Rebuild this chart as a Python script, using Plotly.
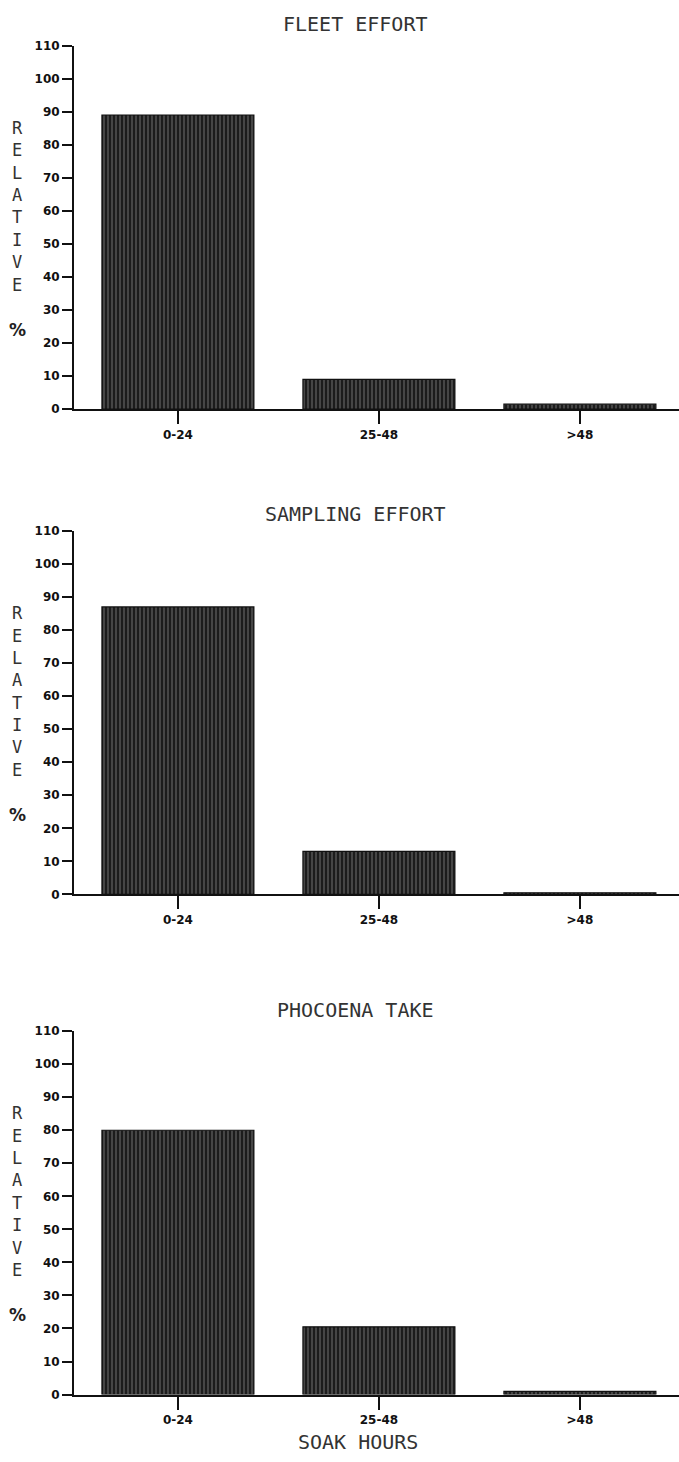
import plotly.graph_objects as go

# ---- data ----
categories = ["0-24", "25-48", ">48"]
fleet_effort = [89, 9, 1.5]
sampling_effort = [87, 13, 0.5]
phocoena_take = [80, 20.5, 1]
panel_titles = ["FLEET EFFORT", "SAMPLING EFFORT", "PHOCOENA TAKE"]
y_ticks = list(range(0, 111, 10))
y_label_letters = ["R", "E", "L", "A", "T", "I", "V", "E"]
x_title = "SOAK HOURS"

W, H = 679, 1462
series = [fleet_effort, sampling_effort, phocoena_take]
# pixel positions of the y=0 and y=110 lines for each panel
zero_px = [406, 896, 1401]
top_px = [39, 529, 1034]
title_px = [17, 512, 1013]

def py(p):
    return 1 - p / H

fig = go.Figure()
axis_font = "DejaVu Sans Mono"
for i, vals in enumerate(series):
    xa = "x" if i == 0 else f"x{i+1}"
    ya = "y" if i == 0 else f"y{i+1}"
    fig.add_trace(go.Bar(
        x=categories, y=vals, xaxis=xa, yaxis=ya, width=0.756,
        marker=dict(
            color="#1c1c1c",
            line=dict(color="#111111", width=1.2),
            pattern=dict(shape="|", fgcolor="#c4c4c4", bgcolor="#1c1c1c",
                         size=4, solidity=0.25, fillmode="overlay"),
        ),
        showlegend=False, hoverinfo="x+y",
    ))
    dom = [py(zero_px[i]), py(top_px[i])]
    xkey = "xaxis" if i == 0 else f"xaxis{i+1}"
    ykey = "yaxis" if i == 0 else f"yaxis{i+1}"
    fig.update_layout(**{
        xkey: dict(
            domain=[74 / W, 1.0], anchor=ya, type="category",
            range=[-0.517, 2.493], showline=True, linecolor="#111",
            linewidth=2, ticks="outside", ticklen=13, tickwidth=1.5,
            tickcolor="#111", showgrid=False, zeroline=False,
            tickfont=dict(family="DejaVu Sans", size=12, color="#111",
                          weight="bold"),
            fixedrange=True,
        ),
        ykey: dict(
            domain=dom, anchor=xa, range=[0, 110], tickvals=y_ticks,
            showline=True, linecolor="#111", linewidth=2,
            ticks="outside", ticklen=10, tickwidth=1.5, tickcolor="#111",
            showgrid=False, zeroline=False,
            tickfont=dict(family="DejaVu Sans", size=12, color="#111",
                          weight="bold"),
            fixedrange=True,
        ),
    })
    # panel title
    fig.add_annotation(text=panel_titles[i], x=355 / W, y=py(title_px[i]),
                       xref="paper", yref="paper", showarrow=False,
                       xanchor="center", yanchor="middle",
                       font=dict(family=axis_font, size=20, color="#333"))
    # stacked y label letters
    z = zero_px[i]
    r_top = z - 284
    for k, ch in enumerate(y_label_letters):
        fig.add_annotation(text=ch, x=17 / W, y=py(r_top + 22.6 * k),
                           xref="paper", yref="paper", showarrow=False,
                           xanchor="center", yanchor="middle",
                           font=dict(family=axis_font, size=17, color="#333"))
    fig.add_annotation(text="%", x=17 / W, y=py(z - 80),
                       xref="paper", yref="paper", showarrow=False,
                       xanchor="center", yanchor="middle",
                       font=dict(family="DejaVu Sans", size=17, color="#222",
                                 weight="bold"))

fig.add_annotation(text=x_title, x=358 / W, y=py(1449), xref="paper",
                   yref="paper", showarrow=False, xanchor="center",
                   yanchor="middle",
                   font=dict(family=axis_font, size=20, color="#333"))

fig.update_layout(
    width=W, height=H, margin=dict(l=0, r=0, t=0, b=0),
    paper_bgcolor="white", plot_bgcolor="white", bargap=0.2,
)

fig.write_html("out.html")
